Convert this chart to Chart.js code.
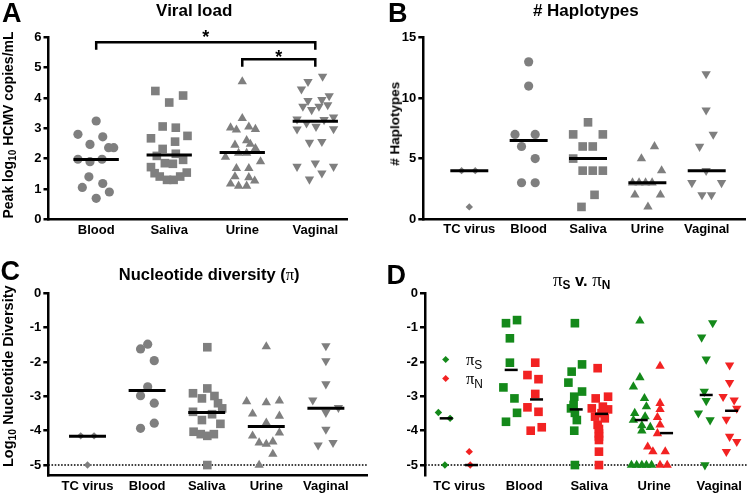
<!DOCTYPE html>
<html>
<head>
<meta charset="utf-8">
<script src="https://cdn.jsdelivr.net/npm/chart.js@4.4.1/dist/chart.umd.min.js"></script>
<style>
html,body{margin:0;padding:0;background:#fff;}
#wrap{position:relative;width:750px;height:498px;overflow:hidden;background:#fff;font-family:"Liberation Sans",Arial,Helvetica,sans-serif;color:#000;}
canvas{position:absolute;}
.t{position:absolute;white-space:nowrap;line-height:1;font-weight:bold;}
.pi{font-family:"Liberation Serif","DejaVu Serif",serif;font-weight:normal;}
.pib{font-size:1.15em;}
.sb{font-size:0.72em;position:relative;top:0.32em;}
.dm{position:absolute;width:5.4px;height:5.4px;transform:rotate(45deg);}
</style>
</head>
<body>
<div id="wrap">
<canvas id="cA" width="375" height="249" style="left:0;top:0"></canvas>
<canvas id="cB" width="375" height="249" style="left:375px;top:0"></canvas>
<canvas id="cC" width="375" height="249" style="left:0;top:249px"></canvas>
<canvas id="cD" width="375" height="249" style="left:375px;top:249px"></canvas>
</div>
<script>
// ---------- categories & ticks ----------
const catsA = ['Blood', 'Saliva', 'Urine', 'Vaginal'];
const catsB = ['TC virus', 'Blood', 'Saliva', 'Urine', 'Vaginal'];
const yTicksA = [0, 1, 2, 3, 4, 5, 6];
const yTicksB = [0, 5, 10, 15];
const yTicksC = [0, -1, -2, -3, -4, -5];
const lod = -5;

// ---------- Panel A: viral load, [x (category units), value] ----------
const loadBlood = [[1.00,3.24],[0.75,2.80],[1.09,2.72],[0.915,2.47],[1.17,2.36],[1.24,2.36],[0.75,1.98],[0.915,1.90],[1.08,1.98],[0.90,1.40],[0.81,1.05],[1.09,1.18],[1.18,0.90],[1.00,0.69]];
const loadSaliva = [[1.81,4.23],[2.19,4.08],[2.00,3.85],[1.91,3.06],[2.09,3.02],[1.75,2.67],[2.25,2.75],[2.08,2.56],[1.91,2.32],[1.83,2.09],[2.09,2.16],[2.19,1.96],[1.94,1.85],[2.05,1.83],[1.75,1.72],[1.80,1.52],[1.87,1.41],[1.97,1.30],[2.06,1.30],[2.15,1.41],[2.24,1.54]];
const loadUrine = [[3.00,4.54],[3.00,3.33],[2.84,3.02],[2.92,2.95],[3.09,3.05],[3.18,2.97],[3.06,2.60],[2.90,2.45],[3.11,2.48],[3.18,2.34],[2.77,2.05],[2.95,2.18],[3.06,2.18],[3.25,1.90],[2.92,1.68],[3.09,1.68],[2.90,1.41],[3.09,1.38],[2.84,1.17],[3.17,1.27],[2.95,1.10],[3.06,1.10]];
const loadVaginal = [[4.10,4.71],[3.90,4.54],[3.81,4.29],[4.19,4.07],[3.90,3.91],[4.09,3.94],[3.83,3.72],[3.95,3.61],[4.05,3.72],[4.17,3.77],[3.75,3.30],[3.88,3.17],[4.01,3.06],[4.12,3.28],[4.25,3.37],[3.75,2.97],[4.25,2.98],[3.92,2.53],[4.09,2.56],[3.75,1.74],[4.00,1.85],[4.25,1.74],[3.92,1.32],[4.09,1.52]];
const medA = [1.97, 2.12, 2.20, 3.23];
const sigFrom = [1, 3];
const sigTo = [4, 4];
const sigLevel = [5.84, 5.28];
const sigStarY = [6.14, 5.48];
const sigText = ['*', '*'];

// ---------- Panel B: # haplotypes ----------
const hapTC = [[0.87,4],[1.10,4],[1.00,1]];
const hapBlood = [[2.00,13],[2.00,11],[1.77,7],[2.11,7],[1.88,6],[2.11,5],[1.88,3],[2.11,3]];
const hapSaliva = [[3.00,8],[2.75,7],[3.25,7],[2.91,6],[3.08,6],[2.75,5],[2.91,4],[3.08,4],[3.25,4],[3.11,2],[2.89,1]];
const hapUrine = [[4.12,6],[3.90,5],[4.24,4],[3.75,3],[3.86,3],[3.97,3],[4.08,3],[3.79,2],[4.22,2],[4.01,1]];
const hapVaginal = [[4.99,12],[4.99,9],[5.11,7],[4.88,6],[4.99,4],[4.75,3],[5.25,3],[4.92,2],[5.08,2]];
const medB = [4, 6.5, 5, 3, 4];

// ---------- Panel C: nucleotide diversity (log10) ----------
const piTC = [[0.886,-4.15],[1.11,-4.15],[1.00,-5.0]];
const piBlood = [[1.89,-1.62],[2.01,-1.48],[2.12,-1.96],[2.01,-2.72],[1.89,-2.98],[2.12,-3.20],[2.12,-3.78],[1.89,-3.93]];
const piSaliva = [[3.01,-1.57],[3.01,-2.77],[2.77,-2.91],[2.92,-3.06],[3.13,-2.99],[3.19,-3.20],[3.26,-3.35],[2.77,-3.45],[3.09,-3.52],[2.92,-3.69],[3.23,-3.80],[2.78,-4.03],[2.90,-4.10],[3.01,-4.15],[3.12,-4.10],[3.01,-5.0]];
const piUrine = [[4.00,-1.55],[3.67,-3.15],[4.00,-3.18],[4.22,-3.13],[3.77,-3.51],[4.22,-3.57],[4.00,-3.77],[4.22,-4.06],[3.77,-4.15],[3.88,-4.35],[4.00,-4.39],[4.11,-4.32],[4.11,-4.68],[3.88,-5.0]];
const piVaginal = [[5.00,-1.53],[5.00,-1.97],[5.00,-2.64],[4.78,-3.11],[5.21,-3.33],[5.00,-3.47],[5.00,-3.96],[4.87,-4.42],[5.12,-4.35]];
const medC = [-4.16, -2.83, -3.47, -3.88, -3.35];

// ---------- Panel D: piS (synonymous) vs piN (non-synonymous) ----------
const psTC = [[0.68,-3.47],[0.86,-3.64],[0.78,-5.0]];
const pnTC = [[1.155,-4.61],[1.17,-5.0]];
const psBlood = [[1.72,-0.87],[1.89,-0.78],[1.78,-1.31],[1.78,-2.02],[1.68,-2.74],[1.85,-3.06],[1.89,-3.48],[1.72,-3.74]];
const pnBlood = [[2.17,-2.02],[2.05,-2.38],[2.22,-2.50],[2.17,-2.93],[2.05,-3.32],[2.22,-3.45],[2.10,-4.00],[2.27,-3.90]];
const psSaliva = [[2.78,-0.87],[2.89,-2.07],[2.73,-2.28],[2.68,-2.60],[2.89,-2.86],[2.77,-3.01],[2.72,-3.35],[2.76,-3.25],[2.78,-3.48],[2.81,-3.69],[2.77,-4.00],[2.78,-5.0]];
const pnSaliva = [[3.13,-2.18],[3.29,-3.01],[3.10,-3.06],[3.04,-3.35],[3.29,-3.38],[3.19,-3.49],[3.09,-3.59],[3.24,-3.64],[3.13,-3.83],[3.15,-4.08],[3.15,-4.27],[3.15,-4.61],[3.15,-5.0],[3.21,-3.30],[3.15,-3.95],[3.15,-4.17]];
const psUrine = [[3.78,-0.80],[3.78,-2.45],[3.68,-2.72],[3.85,-3.06],[3.88,-3.30],[3.70,-3.49],[3.86,-3.59],[3.68,-3.69],[3.81,-3.85],[3.94,-3.90],[3.81,-4.00],[3.65,-5.0],[3.73,-5.0],[3.81,-5.0],[3.88,-5.0],[3.96,-5.0]];
const pnUrine = [[4.09,-2.12],[4.09,-3.20],[4.09,-3.38],[4.05,-3.61],[4.09,-3.83],[4.05,-4.08],[3.90,-4.47],[3.98,-4.61],[4.17,-4.61],[4.09,-5.0],[4.20,-5.0]];
const psVaginal = [[4.90,-0.86],[4.73,-1.28],[4.80,-1.92],[4.77,-2.86],[4.80,-3.13],[4.68,-3.49],[4.86,-3.69],[4.78,-5.0]];
const pnVaginal = [[5.16,-2.09],[5.16,-2.60],[5.06,-3.01],[5.23,-3.11],[5.27,-3.35],[5.11,-3.67],[5.16,-4.17],[5.27,-4.32],[5.11,-4.61]];
const medDs = [-3.64, -2.23, -3.38, -3.69, -2.96];
const medDn = [-5.0, -3.09, -3.51, -4.07, -3.42];

// ---------- styling ----------
const FONT = '"Liberation Sans", Arial, Helvetica, sans-serif';
const GRAY = '#7f7f7f', GREEN = '#14891a', RED = '#f22222';
const R = {circle: 4.6, rect: 6.1, triangle: 5.4, rectRot: 3.7};

function grp(pts, style, color, rot) {
  return {pts, style, color, rot: rot || 0, r: R[style]};
}

function build(id, o) {
  const ds = [];
  o.meds.forEach(m => ds.push({
    data: [{x: m[0] - m[2], y: m[1]}, {x: m[0] + m[2], y: m[1]}],
    showLine: true, borderColor: '#000', borderWidth: m[3], pointRadius: 0,
    order: 0, clip: false, borderCapStyle: 'butt'
  }));
  (o.lines || []).forEach(l => ds.push({
    data: l.pts.map(p => ({x: p[0], y: p[1]})),
    showLine: true, borderColor: '#000', borderWidth: l.w, borderDash: l.dash || [],
    pointRadius: 0, order: l.order, clip: false, borderCapStyle: 'butt', borderJoinStyle: 'miter', tension: 0
  }));
  o.groups.forEach(g => ds.push({
    data: g.pts.map(p => ({x: p[0], y: p[1]})),
    pointStyle: g.style, pointRotation: g.rot, pointRadius: g.r,
    pointBackgroundColor: g.color, pointBorderColor: g.color, pointBorderWidth: 0,
    backgroundColor: g.color, borderColor: g.color, borderWidth: 0,
    order: 1, clip: false
  }));
  return new Chart(document.getElementById(id), {
    type: 'scatter',
    data: {datasets: ds},
    options: {
      responsive: false, animation: false, events: [], devicePixelRatio: 1,
      layout: {padding: {left: 0, right: o.padR, top: o.padT, bottom: 0}, autoPadding: false},
      plugins: {legend: {display: false}, tooltip: {enabled: false}, title: {display: false}},
      scales: {
        x: {
          type: 'linear', min: o.xMin, max: o.xMax, position: 'bottom',
          afterFit: s => { s.height = o.xH; },
          afterBuildTicks: s => { s.ticks = o.cats.map((c, i) => ({value: i + 1})); },
          ticks: {
            callback: v => o.cats[Math.round(v) - 1], autoSkip: false, maxRotation: 0, minRotation: 0,
            padding: 3, color: '#000', font: {family: FONT, size: 13, weight: 'bold'}
          },
          grid: {display: false, drawTicks: false},
          border: {display: o.xBorder !== false, color: '#000', width: 2.5}
        },
        y: {
          type: 'linear', min: o.yMin, max: o.yMax,
          afterFit: s => { s.width = o.yW; },
          afterBuildTicks: s => { s.ticks = o.yTicks.map(v => ({value: v})); },
          ticks: {callback: v => String(v), padding: 2, color: '#000', font: {family: FONT, size: 13, weight: 'bold'}},
          grid: {display: true, drawOnChartArea: false, drawTicks: true, tickLength: 5, color: '#000', lineWidth: 2.5},
          border: {display: true, color: '#000', width: 2.5}
        }
      }
    },
    plugins: o.plugins || []
  });
}

// ---------- Panel A ----------
const starPlugin = {
  id: 'stars',
  afterDatasetsDraw(chart) {
    const {ctx, scales: {x, y}} = chart;
    ctx.save();
    ctx.font = 'bold 18px ' + FONT;
    ctx.textAlign = 'center';
    ctx.textBaseline = 'alphabetic';
    ctx.fillStyle = '#000';
    sigText.forEach((t, i) => {
      ctx.fillText(t, x.getPixelForValue((sigFrom[i] + sigTo[i]) / 2), y.getPixelForValue(sigStarY[i]) + 10);
    });
    ctx.restore();
  }
};
build('cA', {
  cats: catsA, xMin: 0.347, xMax: 4.434, yMin: 0, yMax: 6, yTicks: yTicksA,
  yW: 48.5, padT: 37.3, padR: 28, xH: 29.7,
  meds: medA.map((m, i) => [i + 1, m, 0.31, 3]),
  lines: sigFrom.map((f, i) => ({
    pts: [[f, sigLevel[i] - 0.25], [f, sigLevel[i]], [sigTo[i], sigLevel[i]], [sigTo[i], sigLevel[i] - 0.25]],
    w: 2.5, order: 0
  })),
  groups: [grp(loadBlood, 'circle', GRAY), grp(loadSaliva, 'rect', GRAY), grp(loadUrine, 'triangle', GRAY), grp(loadVaginal, 'triangle', GRAY, 180)],
  plugins: [starPlugin]
});

// ---------- Panel B ----------
build('cB', {
  cats: catsB, xMin: 0.225, xMax: 5.645, yMin: 0, yMax: 15, yTicks: yTicksB,
  yW: 48.3, padT: 37.7, padR: 5, xH: 30,
  meds: medB.map((m, i) => [i + 1, m, 0.32, 3]),
  groups: [grp(hapTC, 'rectRot', GRAY), grp(hapBlood, 'circle', GRAY), grp(hapSaliva, 'rect', GRAY), grp(hapUrine, 'triangle', GRAY), grp(hapVaginal, 'triangle', GRAY, 180)]
});

// ---------- Panel C ----------
build('cC', {
  cats: catsB, xMin: 0.342, xMax: 5.69, yMin: -5.31, yMax: 0, yTicks: yTicksC,
  yW: 48.3, padT: 44.3, padR: 8, xH: 22.3,
  meds: medC.map((m, i) => [i + 1, m, 0.31, 3]),
  lines: [{pts: [[0.342, lod], [5.69, lod]], w: 1.6, dash: [1.6, 1.6], order: 2}],
  groups: [grp(piTC, 'rectRot', GRAY), grp(piBlood, 'circle', GRAY), grp(piSaliva, 'rect', GRAY), grp(piUrine, 'triangle', GRAY), grp(piVaginal, 'triangle', GRAY, 180)]
});

// ---------- Panel D ----------
build('cD', {
  cats: catsB, xMin: 0.474, xMax: 5.443, yMin: -5.31, yMax: 0, yTicks: yTicksC,
  yW: 50, padT: 44.3, padR: 2, xH: 22.3, xBorder: false,
  meds: medDs.map((m, i) => [i + 1 - 0.2, m, 0.1, 2.5]).concat(medDn.map((m, i) => [i + 1 + 0.19, m, 0.1, 2.5])),
  lines: [{pts: [[0.474, lod], [5.443, lod]], w: 1.6, dash: [1.6, 1.6], order: 2}],
  groups: [
    grp(psTC, 'rectRot', GREEN), grp(pnTC, 'rectRot', RED),
    grp(psBlood, 'rect', GREEN), grp(pnBlood, 'rect', RED),
    grp(psSaliva, 'rect', GREEN), grp(pnSaliva, 'rect', RED),
    grp(psUrine, 'triangle', GREEN), grp(pnUrine, 'triangle', RED),
    grp(psVaginal, 'triangle', GREEN, 180), grp(pnVaginal, 'triangle', RED, 180)
  ]
});

// ---------- HTML text (titles, panel letters, axis titles, legend) ----------
const wrap = document.getElementById('wrap');
function txt(html, x, baseline, fs, center, weight) {
  const d = document.createElement('div');
  d.className = 't';
  d.innerHTML = html;
  d.style.fontSize = fs + 'px';
  d.style.top = (baseline - 0.8465 * fs) + 'px';
  if (weight) d.style.fontWeight = weight;
  if (center) { d.style.left = (x - 200) + 'px'; d.style.width = '400px'; d.style.textAlign = 'center'; }
  else d.style.left = x + 'px';
  wrap.appendChild(d);
}
function vtxt(html, baselineX, cy, fs) {
  const d = document.createElement('div');
  d.className = 't';
  d.innerHTML = html;
  d.style.fontSize = fs + 'px';
  d.style.width = '300px'; d.style.height = fs + 'px'; d.style.textAlign = 'center';
  const cx = baselineX - 0.3465 * fs;
  d.style.left = (cx - 150) + 'px'; d.style.top = (cy - fs / 2) + 'px';
  d.style.transform = 'rotate(-90deg)';
  wrap.appendChild(d);
}
function diamond(cx, cy, color) {
  const d = document.createElement('div');
  d.className = 'dm';
  d.style.left = (cx - 2.7) + 'px'; d.style.top = (cy - 2.7) + 'px';
  d.style.background = color;
  wrap.appendChild(d);
}
const PI = '<span class="pi">\u03c0</span>';
const PIB = '<span class="pi pib">\u03c0</span>';

txt('A', 2, 22.7, 27);
txt('B', 388, 22.7, 27);
txt('C', 0.5, 281.3, 27);
txt('D', 386.5, 285, 27);

txt('Viral load', 194.2, 16, 17, true);
txt('# Haplotypes', 585.8, 16, 17, true);
txt('Nucleotide diversity (' + PI + ')', 209.2, 280, 16.5, true);
txt(PIB + '<span class="sb">S</span> v. ' + PIB + '<span class="sb">N</span>', 581.7, 284.5, 16.5, true);

vtxt('Peak log<span class="sb">10</span> HCMV copies/mL', 13, 125, 14);
vtxt('# Haplotypes', 399.3, 124.2, 13.5);
vtxt('Log<span class="sb">10</span> Nucleotide Diversity', 13, 376.7, 14.5);

diamond(446, 360, GREEN);
diamond(446, 379, RED);
txt(PI + '<span class="sb">S</span>', 466, 365, 16.5, false, 'normal');
txt(PI + '<span class="sb">N</span>', 466, 384, 16.5, false, 'normal');
</script>
</body>
</html>
